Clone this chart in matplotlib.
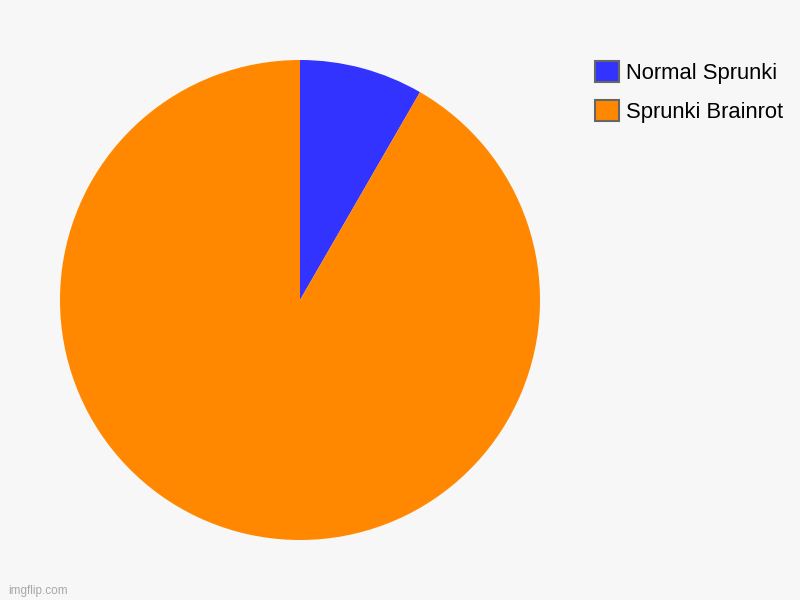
import matplotlib

matplotlib.use("Agg")
import matplotlib.pyplot as plt
from matplotlib.patches import Patch

labels = ["Normal Sprunki", "Sprunki Brainrot"]
values = [1, 11]
colors = ["#3333FF", "#FF8800"]

plt.rcParams["font.family"] = ["Liberation Sans", "DejaVu Sans"]

fig = plt.figure(figsize=(8, 6), dpi=100, facecolor="#F7F7F7")
ax = fig.add_axes([60 / 800, 60 / 600, 480 / 800, 480 / 600])
ax.set_facecolor("#F7F7F7")
ax.pie(values, colors=colors, startangle=90, counterclock=False,
       radius=1, wedgeprops={"linewidth": 0})
ax.set_xlim(-1, 1)
ax.set_ylim(-1, 1)
ax.set_aspect("equal")
ax.axis("off")

handles = [Patch(facecolor=c, edgecolor="#666666", linewidth=1.5) for c in colors]
fig.legend(handles, labels, loc="upper left", bbox_to_anchor=(588 / 800, 1 - 54 / 600),
           frameon=False, fontsize=15.8, handlelength=1.1, handleheight=1.1,
           handletextpad=0.35, labelspacing=0.75, borderaxespad=0, borderpad=0.3)

fig.text(8 / 800, 1 - 591 / 600, "imgflip.com", fontsize=8.5, color="#A8A8A8", va="center")

fig.savefig("out.png", dpi=100, facecolor=fig.get_facecolor())
